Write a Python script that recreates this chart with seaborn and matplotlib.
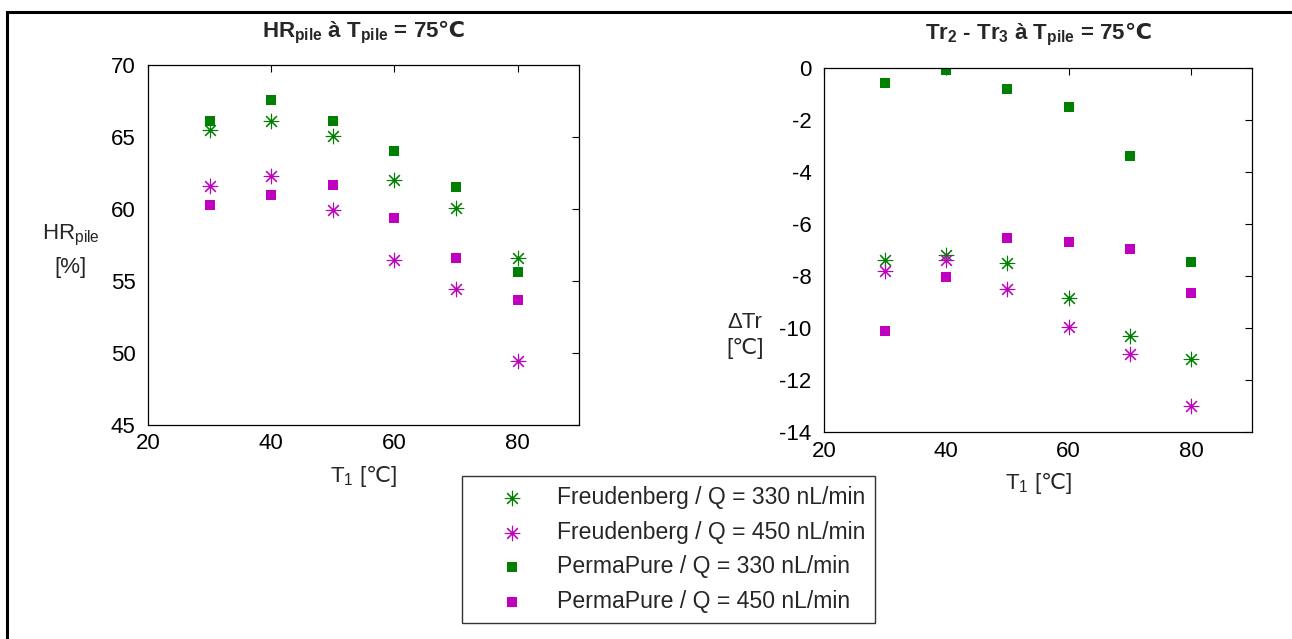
import numpy as np
import pandas as pd
import matplotlib
matplotlib.use("Agg")
import matplotlib.pyplot as plt
from matplotlib.patches import Rectangle
import seaborn as sns

# Donnees
t1 = [30, 40, 50, 60, 70, 80]

hr_freud_330 = [65.5, 66.1, 65.1, 62.0, 60.05, 56.6]
hr_freud_450 = [61.6, 62.3, 59.95, 56.45, 54.45, 49.45]
hr_perma_330 = [66.1, 67.6, 66.1, 64.0, 61.5, 55.6]
hr_perma_450 = [60.25, 61.0, 61.7, 59.35, 56.6, 53.7]

dtr_freud_330 = [-7.4, -7.2, -7.5, -8.85, -10.3, -11.2]
dtr_freud_450 = [-7.8, -7.4, -8.5, -9.95, -11.0, -13.0]
dtr_perma_330 = [-0.6, -0.1, -0.8, -1.5, -3.4, -7.45]
dtr_perma_450 = [-10.1, -8.05, -6.55, -6.7, -6.95, -8.65]

labels = ["Freudenberg / Q = 330 nL/min", "Freudenberg / Q = 450 nL/min",
          "PermaPure / Q = 330 nL/min", "PermaPure / Q = 450 nL/min"]

green = "#008000"
magenta = "#bf00bf"
colors = [green, magenta, green, magenta]
star = (8, 2, 0)
markers = [star, star, "s", "s"]

sns.set_theme(style="white")
plt.rcParams["font.family"] = ["Liberation Sans", "DejaVu Sans"]
plt.rcParams["mathtext.default"] = "regular"
plt.rcParams["axes.unicode_minus"] = False
fs = 16

fig = plt.figure(figsize=(12.92, 6.39), dpi=100)
ax1 = fig.add_axes([0.1146, 0.3349, 0.3336, 0.5634])
ax2 = fig.add_axes([0.6378, 0.3235, 0.3313, 0.5706])

hr_series = [hr_freud_330, hr_freud_450, hr_perma_330, hr_perma_450]
dtr_series = [dtr_freud_330, dtr_freud_450, dtr_perma_330, dtr_perma_450]

for ax, series in [(ax1, hr_series), (ax2, dtr_series)]:
    for vals, lab, col, mk in zip(series, labels, colors, markers):
        df = pd.DataFrame({"T1": t1, "val": vals})
        if mk == "s":
            sns.scatterplot(data=df, x="T1", y="val", ax=ax, marker="s", color=col,
                            s=42, edgecolor=col, linewidth=0, label=lab)
        else:
            sns.scatterplot(data=df, x="T1", y="val", ax=ax, marker=mk, color=col,
                            s=110, linewidth=0.8, label=lab)
    ax.set_xlim(20, 90)
    ax.set_xticks([20, 40, 60, 80])
    ax.tick_params(direction="in", length=5, width=0.8, top=True, right=True,
                   labelsize=fs, colors="black")
    ax.tick_params(axis="y", pad=9)
    ax.tick_params(axis="x", pad=6)
    for sp in ax.spines.values():
        sp.set_color("black")
        sp.set_linewidth(0.9)
    ax.legend_.remove()
    ax.set_xlabel(r"T$_1$ [$\mathrm{℃}$]", fontsize=fs, labelpad=7)

ax1.set_ylim(45, 70)
ax1.set_yticks([45, 50, 55, 60, 65, 70])
ax1.set_title(r"HR$_{pile}$ à T$_{pile}$ = 75$\mathbf{℃}$", fontsize=fs,
              fontweight="bold", pad=20)
ax1.set_ylabel("HR$_{pile}$\n[%]", rotation=0, fontsize=fs, ha="center", va="center",
               linespacing=1.6)
ax1.yaxis.set_label_coords(-0.18, 0.485)

ax2.set_ylim(-14, 0)
ax2.set_yticks([-14, -12, -10, -8, -6, -4, -2, 0])
ax2.set_title(r"Tr$_2$ - Tr$_3$ à T$_{pile}$ = 75$\mathbf{℃}$", fontsize=fs,
              fontweight="bold", pad=20)
ax2.set_ylabel("ΔTr\n[℃]", rotation=0, fontsize=fs, ha="center", va="center",
               linespacing=1.3)
ax2.yaxis.set_label_coords(-0.185, 0.265)

handles, labs = ax1.get_legend_handles_labels()
leg = fig.legend(handles, labs, loc="lower left", bbox_to_anchor=(0.3576, 0.025),
                 frameon=True, fancybox=False, fontsize=16.6, handlelength=3.4,
                 handletextpad=0.25, borderpad=0.45, labelspacing=0.5, borderaxespad=0)
leg.get_frame().set_edgecolor("black")
leg.get_frame().set_linewidth(1.0)

fig.add_artist(Rectangle((0.0058, -0.05), 1.1, 0.05 + 0.981, transform=fig.transFigure,
                         fill=False, edgecolor="black", linewidth=2.2, clip_on=False))

fig.savefig("out.png", dpi=100)
